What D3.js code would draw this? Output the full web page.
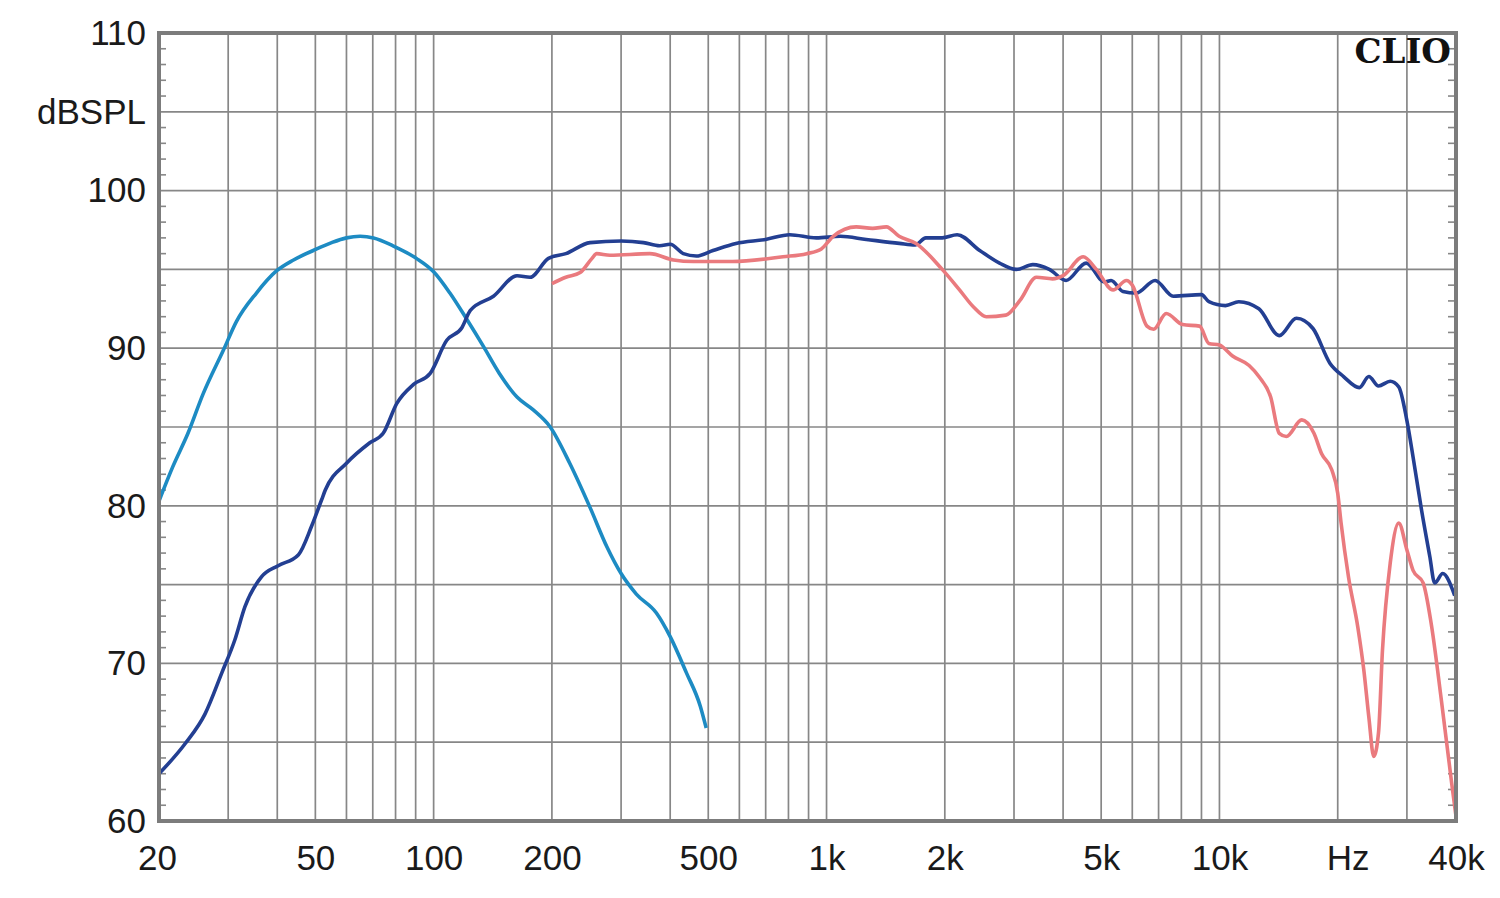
<!DOCTYPE html>
<html>
<head>
<meta charset="utf-8">
<script src="https://cdn.jsdelivr.net/npm/d3@7"></script>
<style>
  html, body { margin: 0; padding: 0; background: #fff; }
  svg { display: block; }
  .lbl text { font-family: "Liberation Sans", Arial, sans-serif; font-size: 35px; fill: #1a1a1a; }
</style>
</head>
<body>
<div id="vis"></div>
<script>
// ── Data (frequency in Hz, level in dBSPL) ─────────────────────────────

const wooferF  = [20, 21.7, 23.7, 25.9, 29.2, 31.5, 35.4, 39.8, 44, 49.4, 55, 60, 65, 70.3, 78.8, 90.4, 100, 110, 121, 134, 147, 163, 179, 198, 222, 250, 276, 300, 328, 369, 400, 440, 477, 494];
const wooferDb = [80.3, 82.5, 84.6, 87.1, 89.9, 91.7, 93.5, 94.9, 95.6, 96.2, 96.7, 97.0, 97.1, 97.0, 96.5, 95.7, 94.85, 93.5, 91.9, 90.1, 88.4, 86.9, 86.1, 85.0, 82.7, 79.9, 77.4, 75.7, 74.4, 73.2, 71.7, 69.4, 67.3, 65.9];

const systemF  = [20, 23.3, 26.2, 28.9, 31.2, 33.1, 36.5, 40.2, 45.3, 48.9, 51.9, 53, 60, 68.8, 74.4, 80.6, 88.9, 98, 108, 118, 124, 142, 163, 176, 196, 217, 250, 300, 342, 376, 400, 432, 466, 514, 588, 700, 806, 942, 1084, 1262, 1532, 1680, 1790, 1970, 2150, 2454, 2756, 3040, 3350, 3690, 4070, 4580, 5100, 5300, 5680, 6140, 6860, 7630, 9000, 9400, 10360, 11200, 12600, 14200, 15700, 17300, 19100, 20700, 22700, 24000, 25400, 27200, 28600, 30000, 31100, 32700, 34300, 35300, 37000, 39700];
const systemDb = [63.0, 64.9, 66.8, 69.4, 71.5, 73.6, 75.5, 76.2, 76.9, 78.7, 80.4, 81.0, 82.7, 84.0, 84.6, 86.5, 87.7, 88.4, 90.5, 91.3, 92.4, 93.3, 94.6, 94.5, 95.7, 96.0, 96.7, 96.8, 96.7, 96.5, 96.6, 96.0, 95.85, 96.2, 96.65, 96.9, 97.2, 97.0, 97.1, 96.9, 96.65, 96.55, 97.0, 97.0, 97.2, 96.2, 95.4, 95.0, 95.3, 95.0, 94.3, 95.4, 94.2, 94.3, 93.6, 93.5, 94.3, 93.3, 93.4, 92.95, 92.7, 92.95, 92.5, 90.8, 91.9, 91.25, 89.05, 88.2, 87.5, 88.2, 87.6, 87.9, 87.55, 85.4, 83.1, 79.7, 76.8, 75.1, 75.7, 74.3];

const upperF  = [200, 217, 236, 253, 260, 281, 355, 408, 458, 492, 577, 775, 890, 970, 1040, 1190, 1310, 1420, 1530, 1690, 1970, 2180, 2370, 2550, 2860, 3110, 3420, 3760, 4000, 4500, 4860, 5360, 5800, 6000, 6540, 6800, 7320, 8060, 8900, 9400, 10000, 10800, 11900, 12600, 13500, 14200, 14800, 16200, 17400, 18200, 19300, 20000, 20400, 21300, 22500, 23300, 24000, 24700, 25400, 26000, 27200, 28600, 30000, 31100, 33000, 34600, 36700, 39000, 40000];
const upperDb = [94.1, 94.5, 94.8, 95.7, 96.0, 95.9, 96.0, 95.6, 95.5, 95.5, 95.5, 95.8, 96.0, 96.3, 97.1, 97.7, 97.6, 97.7, 97.1, 96.65, 95.0, 93.7, 92.6, 92.0, 92.1, 93.05, 94.5, 94.4, 94.6, 95.8, 95.0, 93.7, 94.3, 94.0, 91.4, 91.2, 92.2, 91.5, 91.4, 90.3, 90.2, 89.5, 88.9, 88.2, 86.9, 84.6, 84.4, 85.45, 84.6, 83.3, 82.3, 80.8, 78.9, 75.5, 72.3, 69.6, 66.6, 64.1, 65.6, 70.85, 76.35, 78.9, 77.2, 75.9, 75.1, 72.5, 67.7, 62.4, 60.3];

const xGrid   = [30, 40, 50, 60, 70, 80, 90, 100, 200, 300, 400, 500, 600, 700, 800, 900, 1000, 2000, 3000, 4000, 5000, 6000, 7000, 8000, 9000, 10000, 20000, 30000];
const xTicks  = [20, 50, 100, 200, 500, 1000, 2000, 5000, 10000, 20000, 40000];
const xLabels = ["20", "50", "100", "200", "500", "1k", "2k", "5k", "10k", "Hz", "40k"];
const yTicks  = [60, 70, 80, 90, 100, 105, 110];
const yLabels = ["60", "70", "80", "90", "100", "dBSPL", "110"];

const series = [
  { f: wooferF, db: wooferDb, color: "#1d8bc3" },
  { f: systemF, db: systemDb, color: "#233f92" },
  { f: upperF,  db: upperDb,  color: "#ea7a7e" },
];

// ── Layout ─────────────────────────────────────────────────────────────

const W = 1500, H = 898;
const m = { left: 159, top: 33, right: 44, bottom: 77 };
const iw = W - m.left - m.right, ih = H - m.top - m.bottom;

const x = d3.scaleLog().domain([20, 40000]).range([0, iw]);
const y = d3.scaleLinear().domain([60, 110]).range([ih, 0]);

const svg = d3.select("#vis").append("svg").attr("width", W).attr("height", H);
const g = svg.append("g").attr("transform", `translate(${m.left},${m.top})`);

// ── Grid ───────────────────────────────────────────────────────────────

const gridC = "#878787";
g.append("g").selectAll("line").data(xGrid).join("line")
  .attr("x1", d => x(d)).attr("x2", d => x(d)).attr("y1", 0).attr("y2", ih)
  .attr("stroke", gridC).attr("stroke-width", 1.7);

g.append("g").selectAll("line").data(d3.range(65, 110, 5)).join("line")
  .attr("x1", 0).attr("x2", iw).attr("y1", d => y(d)).attr("y2", d => y(d))
  .attr("stroke", gridC).attr("stroke-width", 1.7);

// minor 1 dB ticks, inside both vertical borders
const minor = d3.range(61, 110).filter(v => v % 5 !== 0);
g.append("g").selectAll("line").data(minor).join("line")
  .attr("x1", 0).attr("x2", 7).attr("y1", d => y(d)).attr("y2", d => y(d))
  .attr("stroke", gridC).attr("stroke-width", 1.6);
g.append("g").selectAll("line").data(minor).join("line")
  .attr("x1", iw - 8).attr("x2", iw).attr("y1", d => y(d)).attr("y2", d => y(d))
  .attr("stroke", gridC).attr("stroke-width", 1.6);

// ── Curves ─────────────────────────────────────────────────────────────

const line = d3.line().x(d => x(d[0])).y(d => y(d[1])).curve(d3.curveMonotoneX);

g.append("g").selectAll("path").data(series).join("path")
  .attr("d", s => line(d3.zip(s.f, s.db)))
  .attr("fill", "none")
  .attr("stroke", s => s.color)
  .attr("stroke-width", 3.6)
  .attr("stroke-linejoin", "round");

// ── Frame ──────────────────────────────────────────────────────────────

g.append("rect").attr("x", 0).attr("y", 0).attr("width", iw).attr("height", ih)
  .attr("fill", "none").attr("stroke", "#7c7c7c").attr("stroke-width", 4);

// ── Axis labels ────────────────────────────────────────────────────────

const xAxis = g.append("g").attr("class", "lbl").attr("transform", `translate(0,${ih})`)
  .call(d3.axisBottom(x).tickValues(xTicks).tickSize(0).tickPadding(24)
    .tickFormat((d, i) => xLabels[i]));
xAxis.select(".domain").remove();
xAxis.selectAll("text").attr("dx", (d, i) => xLabels[i] === "Hz" ? 10 : (i === 0 ? -2 : 0));

const yAxis = g.append("g").attr("class", "lbl")
  .call(d3.axisLeft(y).tickValues(yTicks).tickSize(0).tickPadding(13)
    .tickFormat((d, i) => yLabels[i]));
yAxis.select(".domain").remove();

// ── Brand ──────────────────────────────────────────────────────────────

svg.append("text").attr("x", 1451).attr("y", 63).attr("text-anchor", "end")
  .attr("font-family", "'DejaVu Serif', 'Liberation Serif', serif")
  .attr("font-weight", 700).attr("font-size", 34).attr("fill", "#111")
  .text("CLIO");
</script>
</body>
</html>
